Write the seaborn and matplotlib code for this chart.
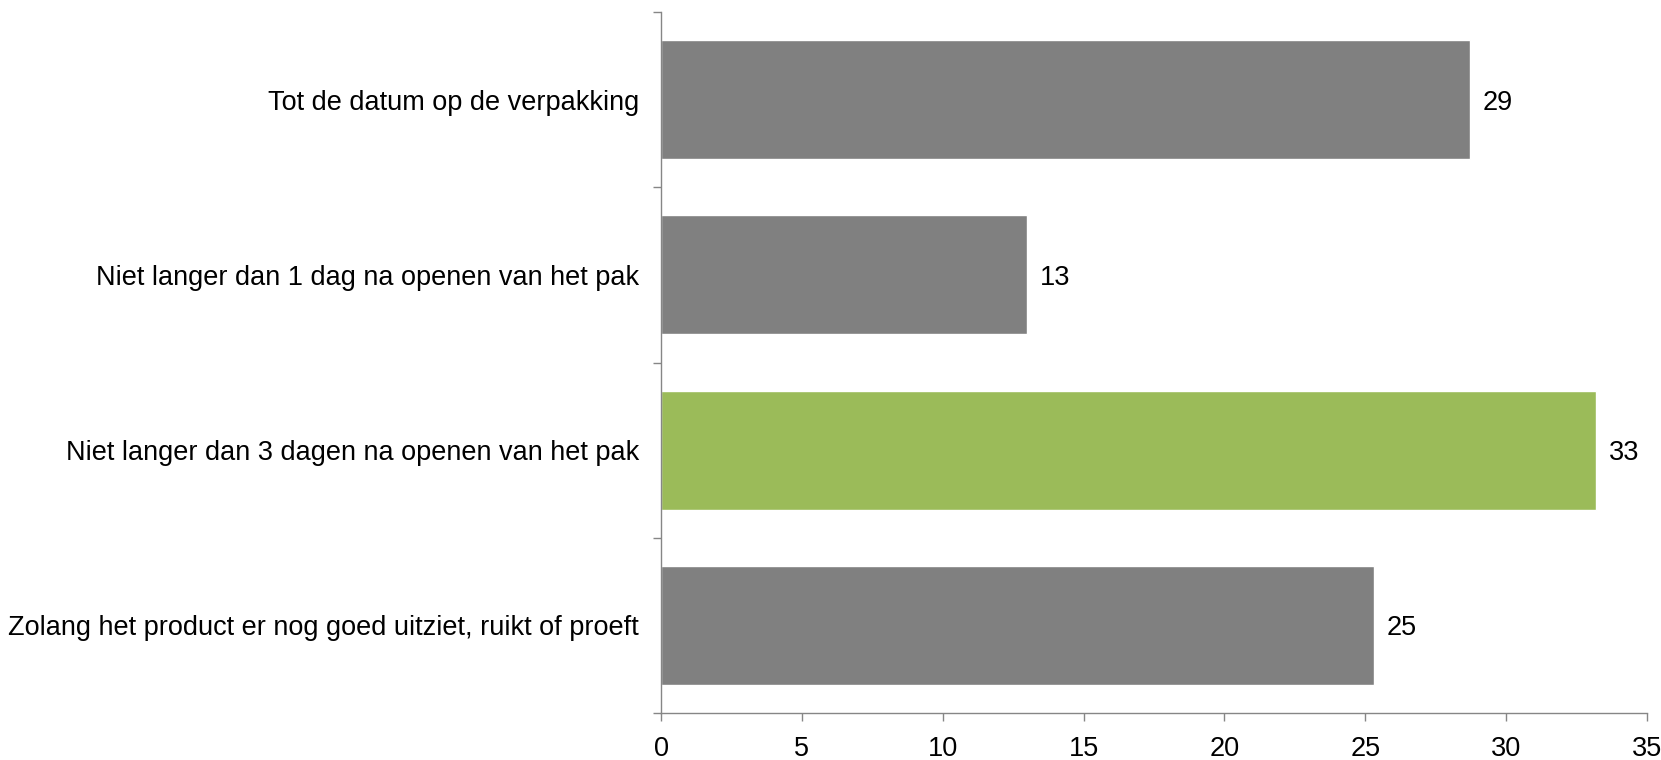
import matplotlib
matplotlib.use('Agg')
import matplotlib.pyplot as plt
from matplotlib.ticker import FixedLocator
import numpy as np
import pandas as pd
import seaborn as sb

categories = [
    "Tot de datum op de verpakking",
    "Niet langer dan 1 dag na openen van het pak",
    "Niet langer dan 3 dagen na openen van het pak",
    "Zolang het product er nog goed uitziet, ruikt of proeft",
]
values = [28.7, 13.0, 33.2, 25.3]
labels = ["29", "13", "33", "25"]
colors = ["#808080", "#808080", "#9BBB59", "#808080"]

df = pd.DataFrame({"cat": categories, "val": values})

sb.set_style("white")
plt.rcParams["font.family"] = ["Liberation Sans", "DejaVu Sans"]

fig = plt.figure(figsize=(16.61, 7.6), dpi=100)
ax = fig.add_axes([0.398, 0.062, 0.5936, 0.922])

sb.barplot(data=df, x="val", y="cat", hue="cat", palette=colors, legend=False,
           width=0.68, saturation=1, ax=ax)

fs = 19.5
for i, (v, t) in enumerate(zip(values, labels)):
    ax.text(v + 0.45, i, t, va="center_baseline", ha="left", fontsize=fs, color="black")

ax.set_xlim(0, 35)
ax.set_ylim(3.5, -0.5)
ax.set_xticks(np.arange(0, 36, 5))
ax.set_xlabel("")
ax.set_ylabel("")

# tick marks on the category boundaries
ax.yaxis.set_minor_locator(FixedLocator([-0.5, 0.5, 1.5, 2.5, 3.5]))
ax.tick_params(axis="y", which="major", length=0, pad=16, labelsize=fs, labelcolor="black")
ax.tick_params(axis="y", which="minor", left=True, length=6, color="#868686", width=1)
ax.tick_params(axis="x", which="major", bottom=True, length=6, color="#868686",
               width=1, pad=11, labelsize=fs, labelcolor="black")

for s in ["top", "right"]:
    ax.spines[s].set_visible(False)
for s in ["left", "bottom"]:
    ax.spines[s].set_color("#868686")
    ax.spines[s].set_linewidth(1)

fig.savefig("out.png", dpi=100)
